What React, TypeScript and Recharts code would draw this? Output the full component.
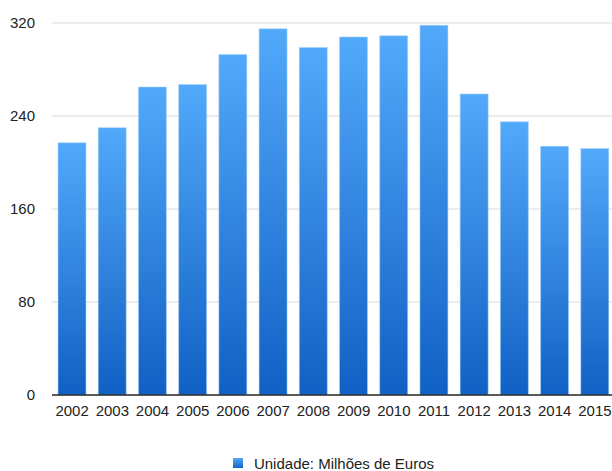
import React from "react";
import { BarChart, Bar, XAxis, YAxis, CartesianGrid, Legend } from "recharts";

// Annual amounts, in millions of euros
const years = ["2002", "2003", "2004", "2005", "2006", "2007", "2008", "2009", "2010", "2011", "2012", "2013", "2014", "2015"];
const amounts = [217, 230, 265, 267, 293, 315, 299, 308, 309, 318, 259, 235, 214, 212];
const yTicks = [0, 80, 160, 240, 320];
const seriesName = "Unidade: Milhões de Euros";

const data = years.map((year, i) => ({ year, value: amounts[i] }));

const FONT = '"Liberation Sans", Arial, Helvetica, sans-serif';

const LegendContent = () => (
  <div
    style={{
      position: "relative",
      width: 563,
      height: 16,
      display: "flex",
      alignItems: "center",
      justifyContent: "center",
      fontFamily: FONT,
      fontSize: 15,
      color: "#222",
    }}
  >
    <span
      style={{
        display: "inline-block",
        width: 10,
        height: 10,
        marginRight: 11,
        background: "linear-gradient(#55aaf9, #1463c6)",
      }}
    />
    <span>{seriesName}</span>
  </div>
);

export default function App() {
  return (
    <div style={{ position: "absolute", left: 0, top: 0, width: 612, height: 471, overflow: "hidden", background: "#fff" }}>
      <BarChart
        width={620}
        height={471}
        data={data}
        margin={{ top: 23, right: 5, left: 0, bottom: 0 }}
        barSize={28}
      >
        <defs>
          <linearGradient id="barFill" x1="0" y1="0" x2="0" y2="1">
            <stop offset="0%" stopColor="#52a9fa" />
            <stop offset="100%" stopColor="#1160c4" />
          </linearGradient>
        </defs>
        <CartesianGrid horizontal vertical={false} stroke="#e6e6e6" strokeWidth={1.3} />
        <XAxis
          dataKey="year"
          height={60}
          tickLine={false}
          tickSize={0}
          tickMargin={10}
          axisLine={{ stroke: "#2a2a2a", strokeWidth: 1.3 }}
          tick={{ fill: "#222", fontSize: 15, fontFamily: FONT }}
          interval={0}
        />
        <YAxis
          width={52}
          domain={[0, 320]}
          ticks={yTicks}
          axisLine={false}
          tickLine={false}
          tickSize={0}
          tickMargin={17}
          tick={{ fill: "#222", fontSize: 15, fontFamily: FONT }}
        />
        <Legend
          verticalAlign="bottom"
          wrapperStyle={{ left: 52, bottom: 0, width: 563 }}
          content={<LegendContent />}
        />
        <Bar
          dataKey="value"
          name={seriesName}
          fill="url(#barFill)"
          stroke="#a8d4fc"
          strokeOpacity={0.55}
          strokeWidth={1}
          isAnimationActive={false}
        />
      </BarChart>
    </div>
  );
}
